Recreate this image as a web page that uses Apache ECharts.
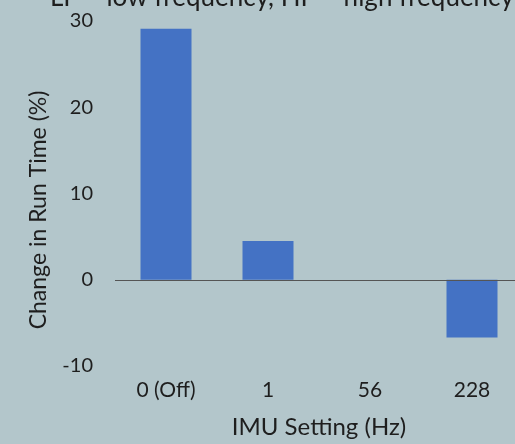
<!DOCTYPE html>
<html><head><meta charset="utf-8">
<script src="https://cdn.jsdelivr.net/npm/echarts@6/dist/echarts.min.js"></script>
<style>html,body{margin:0;padding:0;background:#b3c6cb;overflow:hidden;}#c{width:530px;height:444px;}</style>
</head><body><div id="c"></div>
<script>
const categories = ['0 (Off)', '1', '56', '228'];
const values = [29.1, 4.5, 0, -6.7];
const yTicks = {min: -10, max: 30, interval: 10};
const topNote = 'LF = low frequency, HF = high frequency';
const xTitle = 'IMU Setting (Hz)';
const yTitle = 'Change in Run Time (%)';

const font = 'Lato, "Open Sans", sans-serif';
const ink = '#1e1e1e';
const chart = echarts.init(document.getElementById('c'));
chart.setOption({
  backgroundColor: '#b3c6cb',
  animation: false,
  grid: {left: 115, width: 408, top: 21, height: 347, containLabel: false},
  xAxis: {
    type: 'category', data: categories,
    axisLine: {show: false}, axisTick: {show: false},
    axisLabel: {color: ink, fontSize: 21, fontFamily: font, margin: 14},
    name: xTitle, nameLocation: 'middle', nameGap: 49,
    nameTextStyle: {color: ink, fontSize: 24, fontFamily: font}
  },
  yAxis: {
    type: 'value', min: yTicks.min, max: yTicks.max, interval: yTicks.interval,
    axisLine: {show: false}, axisTick: {show: false}, splitLine: {show: false},
    axisLabel: {color: ink, fontSize: 20, fontFamily: font, margin: 22}
  },
  graphic: [
    {type: 'text', left: 50, top: -15, style: {text: topNote, fontSize: 26, fontFamily: font, fill: ink}},
    {type: 'text', x: 39, y: 210, rotation: Math.PI / 2,
     style: {text: yTitle, fontSize: 23, fontFamily: font, fill: ink, align: 'center', verticalAlign: 'middle'}}
  ],
  series: [{
    type: 'bar', data: values, barWidth: 51,
    itemStyle: {color: '#4472c4'},
    markLine: {silent: true, symbol: 'none', label: {show: false},
      lineStyle: {color: '#555', type: 'solid', width: 1.2},
      data: [{yAxis: 0}]}
  }]
});
</script></body></html>
